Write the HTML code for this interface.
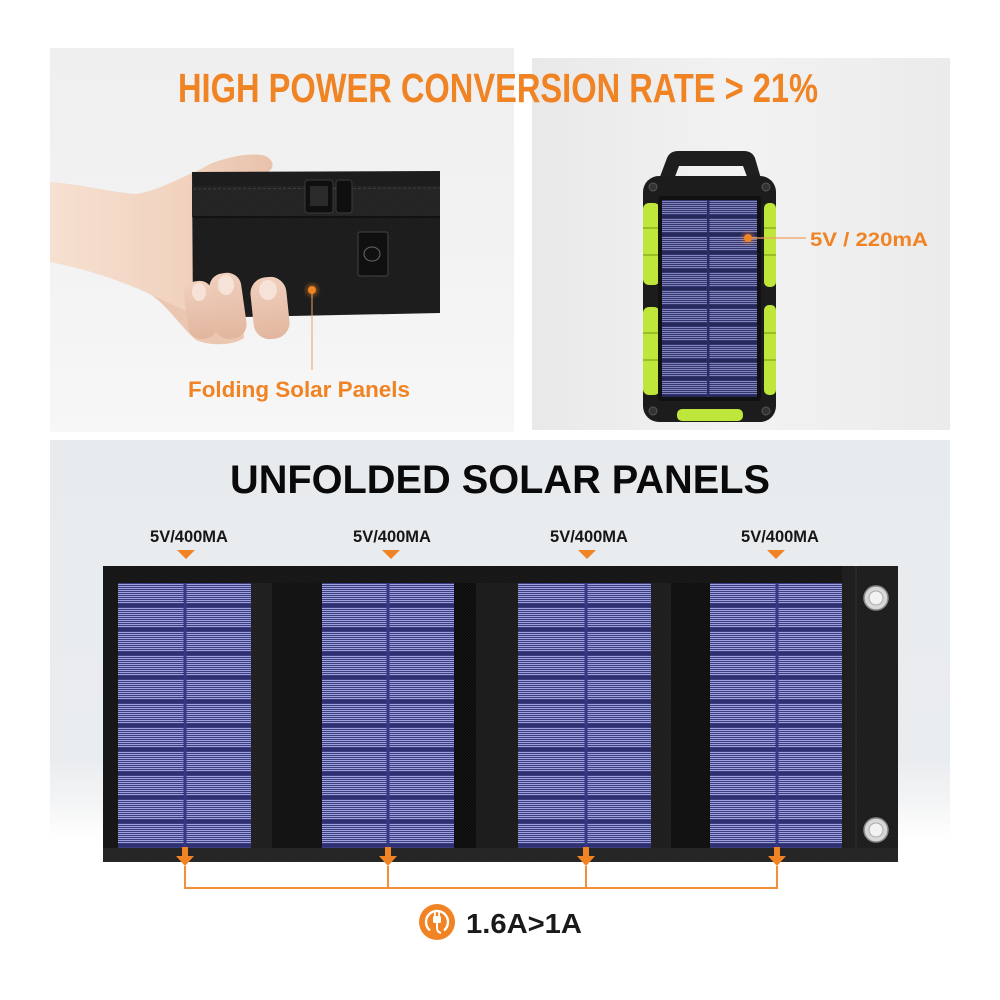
<!DOCTYPE html>
<html><head><meta charset="utf-8">
<style>
html,body{margin:0;padding:0;background:#fff;}
svg{display:block;}
text{font-family:"Liberation Sans",Arial,sans-serif;font-weight:bold;}
</style></head><body>
<svg width="1000" height="1000" viewBox="0 0 1000 1000" xmlns="http://www.w3.org/2000/svg">
<defs>
 <linearGradient id="gl" x1="0" y1="0" x2="0" y2="1">
  <stop offset="0" stop-color="#efefef"/><stop offset="0.6" stop-color="#f3f3f3"/><stop offset="1" stop-color="#f7f7f7"/>
 </linearGradient>
 <linearGradient id="gr" x1="0" y1="0" x2="1" y2="0">
  <stop offset="0" stop-color="#e9e9e9"/><stop offset="0.5" stop-color="#f2f2f2"/><stop offset="1" stop-color="#ebebeb"/>
 </linearGradient>
 <linearGradient id="gb" x1="0" y1="0" x2="0" y2="1">
  <stop offset="0" stop-color="#e8ebee"/><stop offset="0.8" stop-color="#eaedf0"/><stop offset="0.9" stop-color="#f3f4f5"/><stop offset="1" stop-color="#ffffff"/>
 </linearGradient>
 <linearGradient id="skin" x1="0" y1="0" x2="1" y2="0">
  <stop offset="0" stop-color="#f6e0d0"/><stop offset="0.6" stop-color="#f1d2bf"/><stop offset="1" stop-color="#e9c2ab"/>
 </linearGradient>
 <linearGradient id="finger" x1="0" y1="0" x2="0" y2="1">
  <stop offset="0" stop-color="#f0d0be"/><stop offset="1" stop-color="#e2b69e"/>
 </linearGradient>
 <pattern id="cells" patternUnits="userSpaceOnUse" x="0" y="583" width="20" height="24">
  <rect width="20" height="24" fill="#3c3e83"/>
  <g fill="#9ea1d9">
   <rect y="1" width="20" height="1"/><rect y="3" width="20" height="1"/><rect y="5" width="20" height="1"/>
   <rect y="7" width="20" height="1"/><rect y="9" width="20" height="1"/><rect y="11" width="20" height="1"/>
   <rect y="13" width="20" height="1"/><rect y="15" width="20" height="1"/><rect y="17" width="20" height="1"/>
   <rect y="19" width="20" height="1"/>
  </g>
  <rect y="21" width="20" height="3" fill="#2e3070"/>
 </pattern>
 <pattern id="cells2" patternUnits="userSpaceOnUse" x="0" y="200" width="20" height="18">
  <rect width="20" height="18" fill="#33356e"/>
  <g fill="#8a8dc4">
   <rect y="1" width="20" height="0.9"/><rect y="3" width="20" height="0.9"/><rect y="5" width="20" height="0.9"/>
   <rect y="7" width="20" height="0.9"/><rect y="9" width="20" height="0.9"/><rect y="11" width="20" height="0.9"/>
   <rect y="13" width="20" height="0.9"/>
  </g>
  <rect y="15" width="20" height="3" fill="#26285a"/>
 </pattern>
 <pattern id="fab" patternUnits="userSpaceOnUse" width="3" height="3">
  <path d="M0,3 L3,0" stroke="#3a3a3a" stroke-width="0.6"/>
 </pattern>
 <radialGradient id="glow">
  <stop offset="0" stop-color="#f08323" stop-opacity="0.6"/><stop offset="1" stop-color="#f08323" stop-opacity="0"/>
 </radialGradient>
</defs>

<!-- backgrounds -->
<rect width="1000" height="1000" fill="#ffffff"/>
<rect x="50" y="48" width="464" height="384" fill="url(#gl)"/>
<rect x="532" y="58" width="418" height="372" fill="url(#gr)"/>
<rect x="50" y="440" width="900" height="400" fill="url(#gb)"/>

<!-- title -->
<text x="178" y="102" font-size="41" fill="#f08323" textLength="640" lengthAdjust="spacingAndGlyphs">HIGH POWER CONVERSION RATE &gt; 21%</text>

<!-- hand -->
<path d="M50,182 C80,184 110,192 135,194 C155,192 175,180 195,172 L210,164 C225,158 245,153 262,155 C275,158 276,170 265,173 L200,178 L200,330 C185,325 175,312 165,302 C140,288 100,272 50,262 Z" fill="url(#skin)"/>
<path d="M150,294 C168,306 180,326 196,340 C210,346 232,346 244,338 C244,326 236,318 222,316 L192,314 Z" fill="#ebc6b0"/>

<!-- folded panel -->
<path d="M192,172 L440,171 L440,313 L193,318 Z" fill="#1a1a1a"/>
<path d="M192,172 L440,171 L440,313 L193,318 Z" fill="url(#fab)" opacity="0.4"/>
<rect x="192" y="186" width="248" height="31" fill="#212121"/>
<rect x="192" y="186" width="248" height="31" fill="url(#fab)" opacity="0.5"/>
<line x1="193" y1="189" x2="440" y2="188" stroke="#444" stroke-width="0.8" stroke-dasharray="3,2"/>
<line x1="193" y1="217" x2="440" y2="217" stroke="#0c0c0c" stroke-width="1.5"/>
<rect x="305" y="180" width="28" height="33" rx="3" fill="#0f0f0f" stroke="#3a3a3a"/>
<rect x="310" y="186" width="18" height="20" fill="#2a2a2a"/>
<rect x="336" y="180" width="16" height="33" rx="3" fill="#0f0f0f" stroke="#3a3a3a"/>
<rect x="358" y="232" width="30" height="44" rx="2" fill="#101010" stroke="#444"/>
<ellipse cx="372" cy="254" rx="8" ry="7" fill="none" stroke="#666" stroke-width="1"/>
<circle cx="312" cy="290" r="9" fill="url(#glow)"/>
<circle cx="312" cy="290" r="4" fill="#f08323"/>
<line x1="312" y1="294" x2="312" y2="370" stroke="#f0a060" stroke-width="1"/>

<!-- fingers -->
<rect x="186" y="281" width="29" height="58" rx="13" fill="url(#finger)" transform="rotate(-8 200 310)"/>
<rect x="212" y="273" width="32" height="66" rx="14" fill="url(#finger)" transform="rotate(-8 227 306)"/>
<rect x="252" y="277" width="36" height="62" rx="16" fill="url(#finger)" transform="rotate(-6 270 308)"/>
<ellipse cx="199" cy="292" rx="7" ry="9" fill="#f6e2d6"/>
<ellipse cx="226" cy="285" rx="8" ry="10" fill="#f6e2d6"/>
<ellipse cx="268" cy="290" rx="9" ry="10" fill="#f6e2d6"/>

<text x="188" y="397" font-size="22" fill="#f08323" textLength="222" lengthAdjust="spacingAndGlyphs">Folding Solar Panels</text>

<!-- power bank -->
<path fill-rule="evenodd" fill="#1e1e1e" d="M658,182 L667,158 Q670,151 678,151 L744,151 Q752,151 755,158 L762,182 Z M673,182 L679,166 L743,166 L749,182 Z"/>
<rect x="643" y="176" width="133" height="246" rx="16" fill="#1c1c1c"/>
<rect x="643" y="203" width="17" height="82" rx="6" fill="#bfe63a"/>
<rect x="643" y="307" width="17" height="88" rx="6" fill="#bfe63a"/>
<rect x="764" y="203" width="12" height="84" rx="5" fill="#bfe63a"/>
<rect x="764" y="305" width="12" height="90" rx="5" fill="#bfe63a"/>
<g stroke="#8fb020" stroke-width="1.5">
 <line x1="643" y1="228" x2="660" y2="228"/><line x1="643" y1="255" x2="660" y2="255"/>
 <line x1="643" y1="333" x2="660" y2="333"/><line x1="643" y1="360" x2="660" y2="360"/>
 <line x1="764" y1="228" x2="776" y2="228"/><line x1="764" y1="255" x2="776" y2="255"/>
 <line x1="764" y1="333" x2="776" y2="333"/><line x1="764" y1="360" x2="776" y2="360"/>
</g>
<rect x="677" y="409" width="66" height="12" rx="5" fill="#bfe63a"/>
<rect x="658" y="196" width="103" height="205" rx="3" fill="#111"/>
<rect x="662" y="200" width="95" height="197" fill="url(#cells2)"/>
<rect x="707" y="200" width="2.5" height="197" fill="#2a2c66"/>
<g fill="#333" stroke="#555" stroke-width="1">
 <circle cx="653" cy="187" r="4"/><circle cx="766" cy="187" r="4"/>
 <circle cx="653" cy="411" r="4"/><circle cx="766" cy="411" r="4"/>
</g>
<circle cx="748" cy="238" r="9" fill="url(#glow)"/>
<circle cx="748" cy="238" r="4" fill="#f08323"/>
<line x1="752" y1="238" x2="806" y2="238" stroke="#f0a060" stroke-width="1.2"/>
<text x="810" y="246" font-size="19" fill="#f08323" textLength="118" lengthAdjust="spacingAndGlyphs">5V / 220mA</text>

<!-- bottom section -->
<text x="230" y="493" font-size="40" fill="#0a0a0a" textLength="540" lengthAdjust="spacingAndGlyphs">UNFOLDED SOLAR PANELS</text>

<g font-size="16.5" fill="#161616" text-anchor="middle">
 <text x="189" y="542">5V/400MA</text>
 <text x="392" y="542">5V/400MA</text>
 <text x="589" y="542">5V/400MA</text>
 <text x="780" y="542">5V/400MA</text>
</g>
<g fill="#f08323">
 <path d="M177,550 L195,550 L186,559 Z"/>
 <path d="M382,550 L400,550 L391,559 Z"/>
 <path d="M578,550 L596,550 L587,559 Z"/>
 <path d="M767,550 L785,550 L776,559 Z"/>
</g>

<!-- fabric -->
<rect x="103" y="566" width="795" height="296" fill="#141414"/>
<rect x="251" y="583" width="21" height="265" fill="#1e1e1e"/>
<rect x="272" y="583" width="50" height="265" fill="#101010"/>
<rect x="454" y="583" width="22" height="265" fill="#0b0b0b"/>
<rect x="476" y="583" width="42" height="265" fill="#1a1a1a"/>
<rect x="651" y="583" width="20" height="265" fill="#1d1d1d"/>
<rect x="671" y="583" width="39" height="265" fill="#0e0e0e"/>
<rect x="842" y="566" width="56" height="296" fill="#1c1c1c"/>
<line x1="856" y1="566" x2="856" y2="862" stroke="#2a2a2a" stroke-width="1.5"/>
<rect x="103" y="848" width="795" height="14" fill="#242424"/>
<rect x="103" y="566" width="795" height="296" fill="url(#fab)" opacity="0.35"/>

<!-- cells -->
<rect x="118" y="583" width="133" height="265" fill="url(#cells)"/>
<rect x="322" y="583" width="132" height="265" fill="url(#cells)"/>
<rect x="518" y="583" width="133" height="265" fill="url(#cells)"/>
<rect x="710" y="583" width="132" height="265" fill="url(#cells)"/>
<g fill="#353786">
 <rect x="183.5" y="583" width="3" height="265"/>
 <rect x="386.5" y="583" width="3" height="265"/>
 <rect x="584.5" y="583" width="3" height="265"/>
 <rect x="775.5" y="583" width="3" height="265"/>
</g>

<!-- grommets -->
<circle cx="876" cy="598" r="12" fill="#d8d8d8" stroke="#8a8a8a" stroke-width="1.5"/>
<circle cx="876" cy="598" r="7" fill="#f2f2f2" stroke="#aaa" stroke-width="1"/>
<circle cx="876" cy="830" r="12" fill="#d8d8d8" stroke="#8a8a8a" stroke-width="1.5"/>
<circle cx="876" cy="830" r="7" fill="#f2f2f2" stroke="#aaa" stroke-width="1"/>

<!-- arrows -->
<g fill="#f08323">
 <path d="M182,847 L188,847 L188,856 L194,856 L185,866 L176,856 L182,856 Z"/>
 <path d="M385,847 L391,847 L391,856 L397,856 L388,866 L379,856 L385,856 Z"/>
 <path d="M583,847 L589,847 L589,856 L595,856 L586,866 L577,856 L583,856 Z"/>
 <path d="M774,847 L780,847 L780,856 L786,856 L777,866 L768,856 L774,856 Z"/>
</g>
<g stroke="#f0903a" stroke-width="2" fill="none">
 <path d="M185,866 V888 H777 V866"/>
 <path d="M388,866 V888"/>
 <path d="M586,866 V888"/>
</g>

<!-- icon + value -->
<circle cx="437" cy="922" r="18" fill="#f08323"/>
<path d="M430,930.4 A11,11 0 1 1 444,930.4" fill="none" stroke="#fff" stroke-width="2.4"/>
<rect x="433" y="916" width="8" height="7" rx="1.5" fill="#fff"/>
<rect x="434" y="912" width="1.8" height="4.5" fill="#fff"/>
<rect x="438.2" y="912" width="1.8" height="4.5" fill="#fff"/>
<path d="M437,923 V928 Q437,932 441,933" fill="none" stroke="#fff" stroke-width="2"/>
<text x="466" y="933" font-size="28" fill="#1a1a1a" textLength="116" lengthAdjust="spacingAndGlyphs">1.6A&gt;1A</text>
</svg>
</body></html>
